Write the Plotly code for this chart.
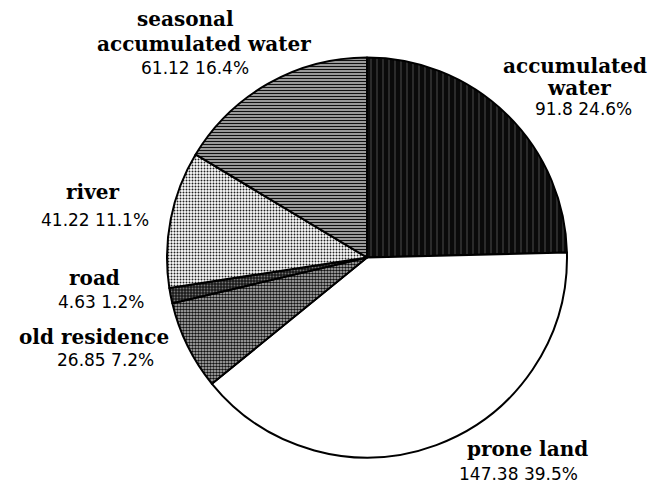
import plotly.graph_objects as go

labels = ["accumulated water", "prone land", "old residence", "road", "river", "seasonal accumulated water"]
values = [91.8, 147.38, 26.85, 4.63, 41.22, 61.12]
percents = ["24.6%", "39.5%", "7.2%", "1.2%", "11.1%", "16.4%"]

# page body has an 8px margin; figure sized so that it fills the window
OFF = 8
W, H = 659 - OFF, 486 - OFF

def px(x, y):
    return (x - OFF) / W, 1 - (y - OFF) / H

x0, y1 = px(167, 57)
x1, y0 = px(567, 458)

fig = go.Figure()
fig.add_trace(go.Pie(
    labels=labels, values=values, sort=False, direction="clockwise", rotation=0,
    textinfo="none", hoverinfo="skip", showlegend=False,
    domain=dict(x=[x0, x1], y=[y0, y1]),
    marker=dict(
        colors=["#111111", "#ffffff", "#9a9a9a", "#2a2a2a", "#d8d8d8", "#7a7a7a"],
        line=dict(color="black", width=2),
        pattern=dict(
            shape=["|", "", ".", ".", ".", "-"],
            fgcolor=["#666666", "#ffffff", "#111111", "#777777", "#222222", "#111111"],
            bgcolor=["#0a0a0a", "#ffffff", "#c8c8c8", "#1a1a1a", "#ffffff", "#ffffff"],
            size=[6, 6, 3, 3, 3, 3],
            solidity=[0.12, 0.1, 0.6, 0.3, 0.35, 0.62],
            fillmode="replace",
        ),
    ),
))

name_font = dict(family="DejaVu Serif", size=20, color="black")
val_font = dict(family="DejaVu Sans", size=17, color="black")

# (text, x_center_px, y_center_px, is_name) in window pixels
label_lines = [
    ("<b>seasonal</b>", 185, 19, True),
    ("<b>accumulated water</b>", 204, 44, True),
    (f"{values[5]} {percents[5]}", 195, 68, False),
    ("<b>river</b>", 92, 192, True),
    (f"{values[4]} {percents[4]}", 95, 220, False),
    ("<b>road</b>", 94, 278, True),
    (f"{values[3]} {percents[3]}", 101, 302, False),
    ("<b>old residence</b>", 94, 337, True),
    (f"{values[2]} {percents[2]}", 105, 360, False),
    ("<b>prone land</b>", 527, 449, True),
    (f"{values[1]} {percents[1]}", 518, 474, False),
    ("<b>accumulated</b>", 575, 66, True),
    ("<b>water</b>", 579, 88, True),
    (f"{values[0]} {percents[0]}", 583, 109, False),
]

for text, x, y, is_name in label_lines:
    xp, yp = px(x, y)
    fig.add_annotation(
        text=text, x=xp, y=yp, xref="paper", yref="paper",
        xanchor="center", yanchor="middle", showarrow=False,
        font=name_font if is_name else val_font,
    )

fig.update_layout(
    width=W, height=H, margin=dict(l=0, r=0, t=0, b=0),
    paper_bgcolor="white", plot_bgcolor="white",
)

fig.write_html("out.html")
